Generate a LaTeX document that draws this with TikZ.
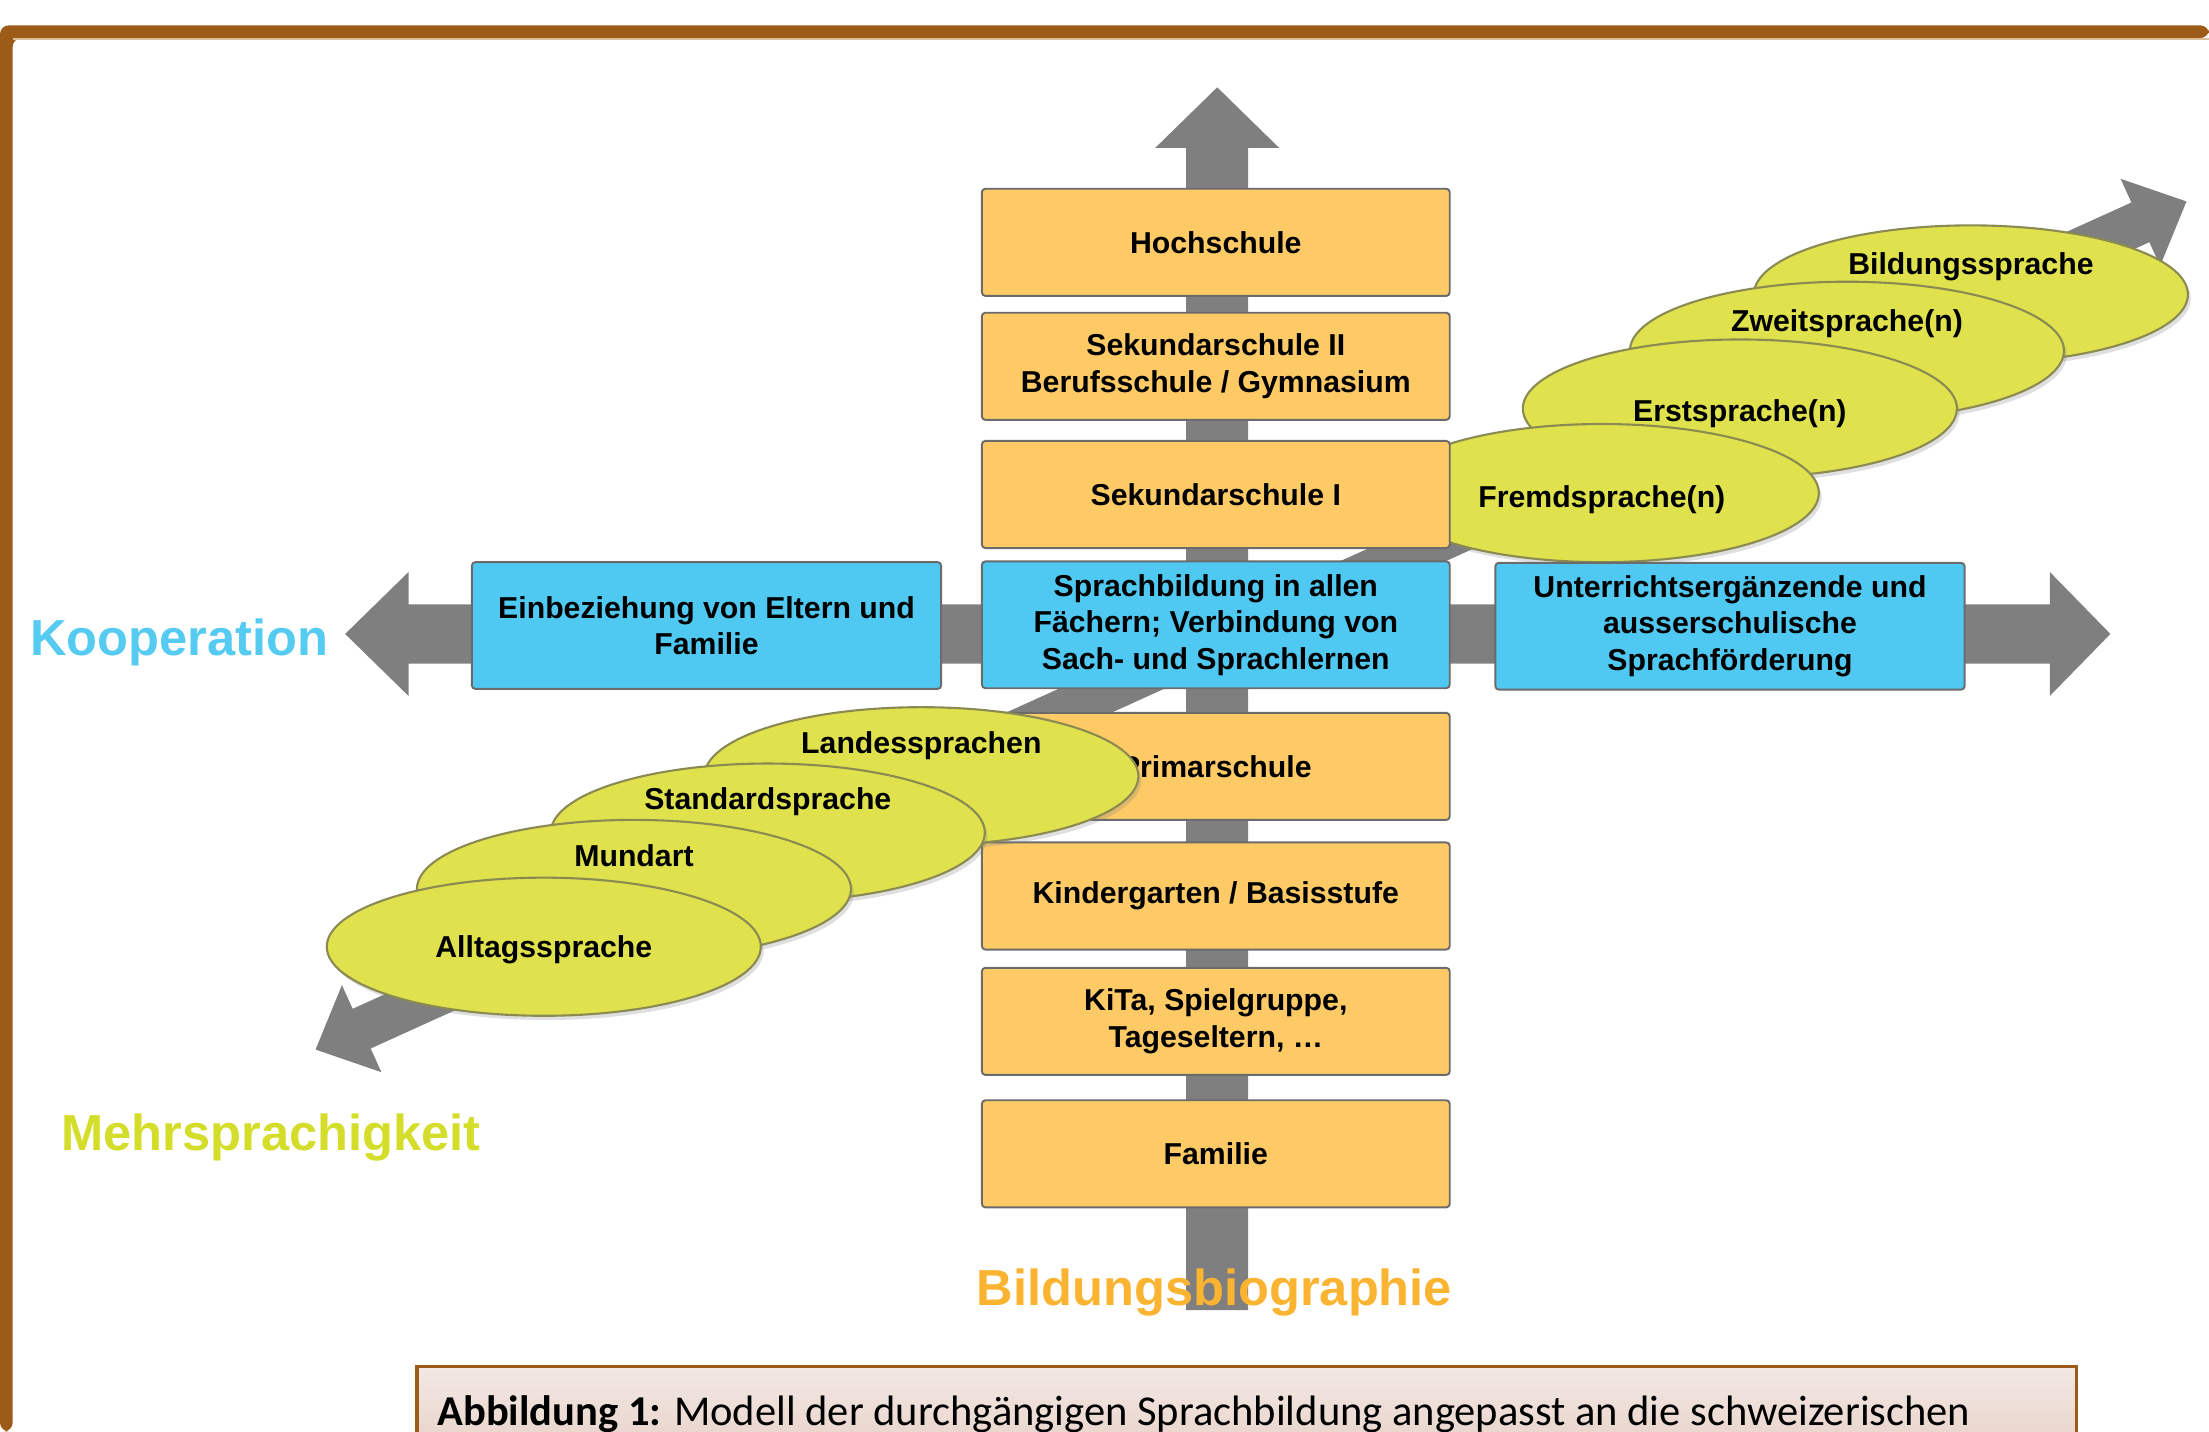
\documentclass[tikz,border=0pt]{standalone}
\usepackage{fontspec}
\setmainfont{Liberation Sans}
\newfontfamily\captionfont{Carlito}
\usetikzlibrary{shapes.geometric,calc,shadows}

\definecolor{rahmen}{HTML}{9C5B17}
\definecolor{rahmenhell}{HTML}{DCC09C}
\definecolor{pfeil}{HTML}{7F7F7F}
\definecolor{stufecol}{HTML}{FDCA66}
\definecolor{feldcol}{HTML}{4FC9F2}
\definecolor{ovalcol}{HTML}{DFE24C}
\definecolor{kante}{HTML}{6B6B6B}
\definecolor{ovalkante}{HTML}{8A8A52}
\definecolor{kooptext}{HTML}{55CBF2}
\definecolor{mehrtext}{HTML}{D4DD2A}
\definecolor{bildtext}{HTML}{FBB432}
\definecolor{capoben}{HTML}{F2E8E4}
\definecolor{capunten}{HTML}{E8D3C9}

\begin{document}
\begin{tikzpicture}[x=0.014088cm,y=-0.014088cm,
		every node/.style={font=\fontsize{8.6}{10.4}\selectfont\bfseries, inner sep=0pt},
		stufe/.style={draw=kante, line width=0.55pt, fill=stufecol, rounded corners=1pt,
			minimum width=4.677cm, minimum height=1.071cm, align=center},
		feld/.style={stufe, fill=feldcol, minimum width=4.691cm, minimum height=1.268cm},
		oval/.style={ellipse, draw=ovalkante, line width=0.6pt, fill=ovalcol,
			minimum width=4.339cm, minimum height=1.381cm,
			drop shadow={opacity=0.25, shadow xshift=0.8pt, shadow yshift=-1.2pt}},
		achse/.style={font=\fontsize{14.4}{17}\selectfont\bfseries}]
	\clip (0,0) rectangle (1568,1016);
	% frame
	\fill [rahmen, rounded corners=2.5pt] (0,1016) -- (0,18) -- (1568,18) -- (1568,27) -- (9,27) -- (9,1016) -- cycle;
	\draw [rahmenhell, line width=0.5pt] (9,27.8) -- (1568,27.8);

	% axes
	\fill [pfeil] (842,930) -- (842,105) -- (820,105) -- (864,62) -- (908,105) -- (886,105) -- (886,930) -- cycle;
	\fill [pfeil] (245,450) -- (290,406) -- (290,429) -- (1455,429) -- (1455,406) -- (1498,450)
		-- (1455,494) -- (1455,471) -- (290,471) -- (290,494) -- cycle;
	\coordinate (dA) at (224,745);
	\coordinate (dB) at (1552,143);
	\coordinate (hA) at ($(dA)!14.4pt!(dB)$);
	\coordinate (hB) at ($(dB)!14.4pt!(dA)$);
	\fill [pfeil] (dA) -- ($(hA)!13.6pt!90:(dB)$) -- ($(hA)!6.2pt!90:(dB)$)
		-- ($(hB)!6.2pt!-90:(dA)$) -- ($(hB)!13.6pt!-90:(dA)$) -- (dB)
		-- ($(hB)!13.6pt!90:(dA)$) -- ($(hB)!6.2pt!90:(dA)$)
		-- ($(hA)!6.2pt!-90:(dB)$) -- ($(hA)!13.6pt!-90:(dB)$) -- cycle;

	% languages, upper right
	\node [oval, label={[yshift=8pt]center:Bildungssprache}] (bildung) at (1399,209) {};
	\node [oval, label={[yshift=7.6pt]center:Zweitsprache(n)}] (zweit) at (1311,249) {};
	\node [oval, label={[yshift=-1.6pt]center:Erstsprache(n)}] (erst) at (1235,290) {};
	\node [oval, label={[yshift=-2pt]center:Fremdsprache(n)}] (fremd) at (1137,350) {};

	% school levels
	\node [stufe] (hoch) at (863,172) {Hochschule};
	\node [stufe] (sek2) at (863,260) {Sekundarschule II\\Berufsschule / Gymnasium};
	\node [stufe] (sek1) at (863,351) {Sekundarschule I};
	\node [feld, minimum width=4.677cm] (faecher) at (863,443.5) {Sprachbildung in allen\\F\"achern; Verbindung von\\Sach- und Sprachlernen};
	\node [stufe] (primar) at (863,544) {Primarschule};
	\node [stufe] (kiga) at (863,636) {Kindergarten / Basisstufe};
	\node [stufe] (kita) at (863,725) {KiTa, Spielgruppe,\\Tageseltern, …};
	\node [stufe] (familie) at (863,819) {Familie};
	\node [feld] (eltern) at (501.5,444) {Einbeziehung von Eltern und\\Familie};
	\node [feld] (ausser) at (1228,444.5) {Unterrichtserg\"anzende und\\ausserschulische\\Sprachf\"orderung};

	% languages, lower left
	\node [oval, label={[yshift=8.8pt]center:Landessprachen}] (landes) at (654,551) {};
	\node [oval, label={[yshift=8.8pt]center:Standardsprache}] (standard) at (545,591) {};
	\node [oval, label={[yshift=9.6pt]center:Mundart}] (mundart) at (450,631) {};
	\node [oval, label={[yshift=-0.8pt]center:Alltagssprache}] (alltag) at (386,672) {};

	% axis names
	\node [achse, text=kooptext, anchor=base west] (koop) at (21,465) {Kooperation};
	\node [achse, text=mehrtext, anchor=base west] (mehr) at (43,817) {Mehrsprachigkeit};
	\node [achse, text=bildtext, anchor=base] (biografie) at (862,927) {Bildungsbiographie};

	% caption
	\shade [top color=capoben, bottom color=capunten] (296,970) rectangle (1474,1030);
	\draw [rahmen, line width=0.9pt] (296,1030) -- (296,970) -- (1474,970) -- (1474,1030);
	\node [font=\captionfont\fontsize{12.1}{15}\selectfont, anchor=base west] (legende) at (310,1012)
		{\textbf{Abbildung 1:} Modell der durchg\"angigen Sprachbildung angepasst an die schweizerischen};
\end{tikzpicture}
\end{document}
